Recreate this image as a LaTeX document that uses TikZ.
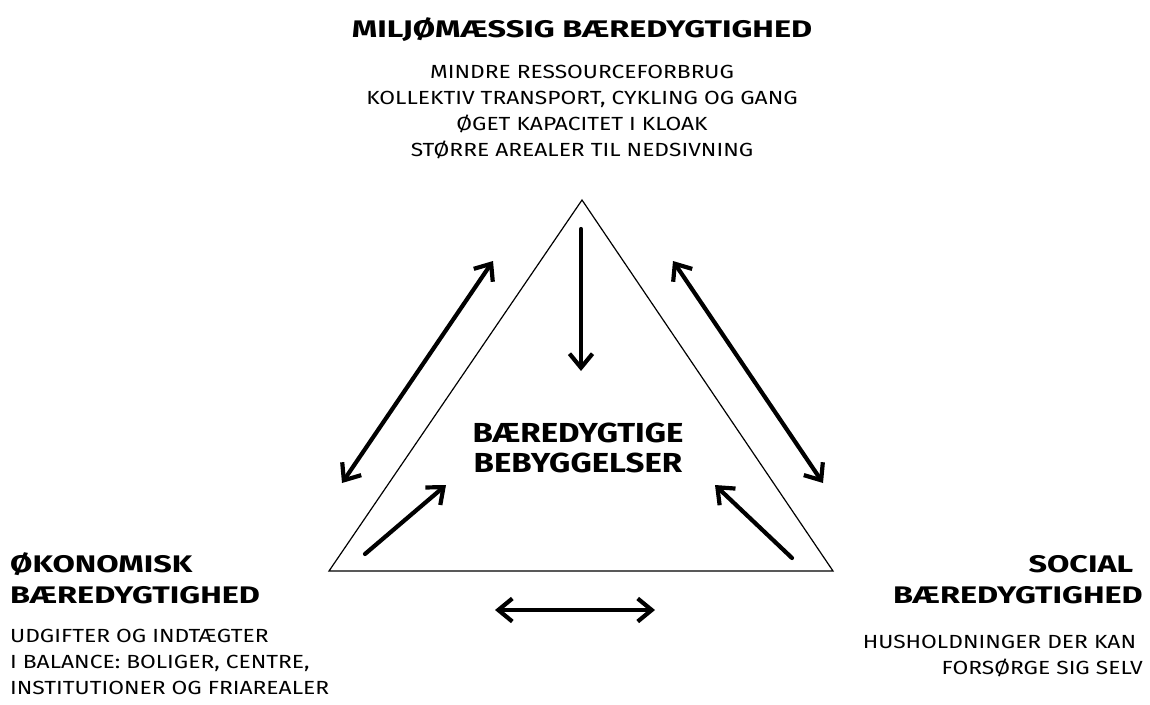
\documentclass[tikz,border=0pt]{standalone}
\usepackage{fontspec}
\setmainfont{Fira Sans}
\newfontfamily\headfont{Fira Sans}[FakeStretch=1.35]
\newfontfamily\corefont{Fira Sans}[FakeStretch=1.2]
\newfontfamily\bodyfont{Fira Sans}[FakeStretch=1.2]
\usetikzlibrary{arrows.meta}
\begin{document}
\begin{tikzpicture}[x=1pt,y=-1pt,
  heading/.style={inner sep=0pt, font=\headfont\fontsize{24}{31}\selectfont\bfseries},
  core/.style={inner sep=0pt, font=\corefont\fontsize{27.5}{30}\selectfont\bfseries, align=center},
  bodytext/.style={inner sep=0pt, font=\bodyfont\fontsize{19}{26}\selectfont},
  barb/.tip={Straight Barb[length=14pt,width=23pt,line width=4.2pt]},
  link/.style={line width=4.2pt, line cap=round, -barb},
  dlink/.style={line width=4.2pt, line cap=round, barb-barb}]
\useasboundingbox (0,0) rectangle (1150,704);

% triangle
\coordinate (apex) at (582,200);
\coordinate (bl) at (329,571);
\coordinate (br) at (833,571);
\draw[line width=1.2pt, line join=miter] (apex) -- (bl) -- (br) -- cycle;

% environmental pillar (base anchor = baseline of the last line)
\node[heading, anchor=base] (envhead) at (582,37) {MILJØMÆSSIG BÆREDYGTIGHED};
\node[bodytext, anchor=base, align=center] (envbody) at (582,156)
  {MINDRE RESSOURCEFORBRUG\\KOLLEKTIV TRANSPORT, CYKLING OG GANG\\ØGET KAPACITET I KLOAK\\STØRRE AREALER TIL NEDSIVNING};

% economic pillar
\node[heading, anchor=base west, align=left] (ecohead) at (10,603) {ØKONOMISK\\BÆREDYGTIGHED};
\node[bodytext, anchor=base west, align=left] (ecobody) at (10,694)
  {UDGIFTER OG INDTÆGTER\\I BALANCE: BOLIGER, CENTRE,\\INSTITUTIONER OG FRIAREALER};

% social pillar
\node[heading, anchor=base east, align=right] (sochead) at (1143,603) {SOCIAL\phantom{I}\\BÆREDYGTIGHED};
\node[bodytext, anchor=base east, align=right] (socbody) at (1143,674)
  {HUSHOLDNINGER DER KAN\phantom{I}\\FORSØRGE SIG SELV};

% centre
\node[core, anchor=base] (centre) at (578,472) {BÆREDYGTIGE\\BEBYGGELSER};

% arrow end points
\coordinate (t1) at (581,229);  \coordinate (t2) at (581,371);
\coordinate (l1) at (342,483);  \coordinate (l2) at (493,261);
\coordinate (r1) at (673,261);  \coordinate (r2) at (823,483);
\coordinate (a1) at (365,554);  \coordinate (a2) at (446,485);
\coordinate (b1) at (792,558);  \coordinate (b2) at (715,485);
\coordinate (h1) at (495,610);  \coordinate (h2) at (655,610);

\draw[link] (t1) -- (t2);
\draw[dlink] (l1) -- (l2);
\draw[dlink] (r1) -- (r2);
\draw[link] (a1) -- (a2);
\draw[link] (b1) -- (b2);
\draw[dlink] (h1) -- (h2);
\end{tikzpicture}
\end{document}
